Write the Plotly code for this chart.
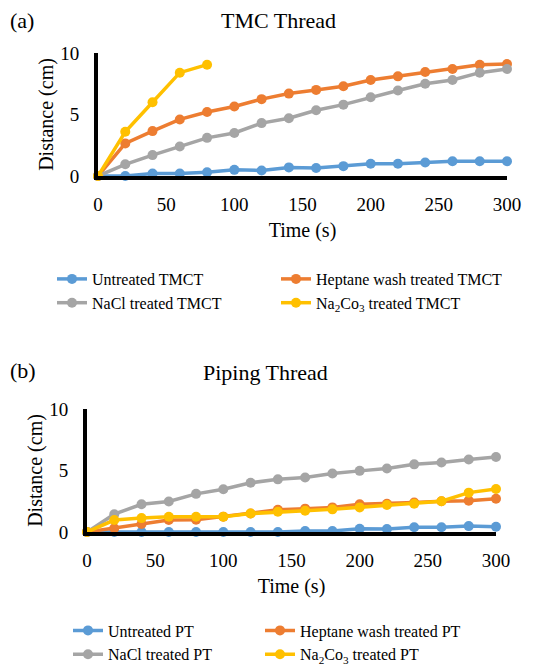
import plotly.graph_objects as go

FONT = "Liberation Serif"

time_s = [0, 20, 40, 60, 80, 100, 120, 140, 160, 180, 200, 220, 240, 260, 280, 300]
time_na2co3_tmc = [0, 20, 40, 60, 80]

tmc_untreated = [0, 0.0, 0.2, 0.2, 0.3, 0.5, 0.45, 0.7, 0.65, 0.8, 1.0, 1.0, 1.1, 1.2, 1.2, 1.2]
tmc_heptane = [0, 2.65, 3.65, 4.6, 5.2, 5.65, 6.25, 6.7, 7.0, 7.3, 7.8, 8.1, 8.45, 8.7, 9.05, 9.1]
tmc_nacl = [0, 0.95, 1.7, 2.4, 3.1, 3.5, 4.3, 4.7, 5.35, 5.8, 6.4, 6.95, 7.5, 7.8, 8.4, 8.7]
tmc_na2co3 = [0, 3.6, 6.0, 8.4, 9.05]

pt_untreated = [0, 0.0, 0.0, 0.0, 0.0, 0.0, 0.0, 0.0, 0.08, 0.08, 0.27, 0.25, 0.38, 0.38, 0.48, 0.42]
pt_heptane = [0, 0.3, 0.65, 0.97, 1.0, 1.25, 1.5, 1.8, 1.9, 2.0, 2.25, 2.3, 2.4, 2.5, 2.55, 2.7]
pt_nacl = [0, 1.45, 2.25, 2.48, 3.1, 3.48, 4.0, 4.28, 4.43, 4.75, 4.97, 5.16, 5.5, 5.65, 5.9, 6.1]
pt_na2co3 = [0, 0.97, 1.13, 1.24, 1.24, 1.24, 1.5, 1.65, 1.73, 1.84, 2.0, 2.2, 2.3, 2.5, 3.2, 3.5]

x_ticks = [0, 50, 100, 150, 200, 250, 300]
y_ticks = [0, 5, 10]

BLUE, ORANGE, GRAY, YELLOW = "#5B9BD5", "#ED7D31", "#A5A5A5", "#FFC000"

fig = go.Figure()

def add(x, y, name, color, xa, ya, legend):
    fig.add_trace(go.Scatter(
        x=x, y=y, name=name, mode="lines+markers",
        line=dict(color=color, width=3.5),
        marker=dict(color=color, size=10),
        xaxis=xa, yaxis=ya, legend=legend, legendgroup=name, cliponaxis=False,
    ))

add(time_s, tmc_untreated, "Untreated TMCT", BLUE, "x", "y", "legend")
add(time_s, tmc_heptane, "Heptane wash treated TMCT", ORANGE, "x", "y", "legend3")
add(time_s, tmc_nacl, "NaCl treated TMCT", GRAY, "x", "y", "legend")
add(time_na2co3_tmc, tmc_na2co3, "Na<sub>2</sub>Co<sub>3</sub> treated TMCT", YELLOW, "x", "y", "legend3")

add(time_s, pt_untreated, "Untreated PT", BLUE, "x2", "y2", "legend2")
add(time_s, pt_heptane, "Heptane wash treated PT", ORANGE, "x2", "y2", "legend4")
add(time_s, pt_nacl, "NaCl treated PT", GRAY, "x2", "y2", "legend2")
add(time_s, pt_na2co3, "Na<sub>2</sub>Co<sub>3</sub> treated PT", YELLOW, "x2", "y2", "legend4")

W, H = 555, 666

def xax(domain, anchor):
    return dict(domain=domain, anchor=anchor, range=[0, 300], tickvals=x_ticks,
                showline=True, linewidth=4, linecolor="black", showgrid=False,
                zeroline=False, ticks="", ticklabelstandoff=8,
                tickfont=dict(family=FONT, size=19, color="black"),
                title=dict(text="Time (s)", font=dict(family=FONT, size=20, color="black"), standoff=10))

def yax(domain, anchor):
    return dict(domain=domain, anchor=anchor, range=[0, 10], tickvals=y_ticks,
                showline=True, linewidth=4, linecolor="black", showgrid=False,
                zeroline=False, ticks="", ticklabelstandoff=11,
                tickfont=dict(family=FONT, size=19, color="black"),
                title=dict(text="Distance (cm)", font=dict(family=FONT, size=20, color="black"), standoff=2))

leg_common = dict(orientation="v", xanchor="left", yanchor="middle",
                  itemwidth=30, font=dict(family=FONT, size=16, color="black"),
                  bgcolor="rgba(0,0,0,0)", tracegroupgap=0)

fig.update_layout(
    width=W, height=H,
    margin=dict(l=0, r=0, t=0, b=0, autoexpand=False),
    paper_bgcolor="white", plot_bgcolor="white",
    xaxis=xax([90 / W, 499 / W], "y"),
    yaxis=yax([1 - 168 / H, 1 - 45 / H], "x"),
    xaxis2=xax([79 / W, 488 / W], "y2"),
    yaxis2=yax([1 - 524 / H, 1 - 401 / H], "x2"),
    legend=dict(x=44 / W, y=1 - 283 / H, **leg_common),
    legend3=dict(x=268 / W, y=1 - 283 / H, **leg_common),
    legend2=dict(x=60 / W, y=1 - 634.5 / H, **leg_common),
    legend4=dict(x=252 / W, y=1 - 634.5 / H, **leg_common),
    annotations=[
        dict(text="TMC Thread", x=270 / W, y=1 - 12 / H, xref="paper", yref="paper",
             yanchor="middle", showarrow=False, font=dict(family=FONT, size=22, color="black")),
        dict(text="Piping Thread", x=257 / W, y=1 - 364 / H, xref="paper", yref="paper",
             yanchor="middle", showarrow=False, font=dict(family=FONT, size=22, color="black")),
        dict(text="(a)", x=0, y=1 - 12 / H, xref="paper", yref="paper", xanchor="left",
             yanchor="middle", showarrow=False, font=dict(family=FONT, size=22, color="black")),
        dict(text="(b)", x=0, y=1 - 362 / H, xref="paper", yref="paper", xanchor="left",
             yanchor="middle", showarrow=False, font=dict(family=FONT, size=22, color="black")),
    ],
)

fig.write_html("out.html")
